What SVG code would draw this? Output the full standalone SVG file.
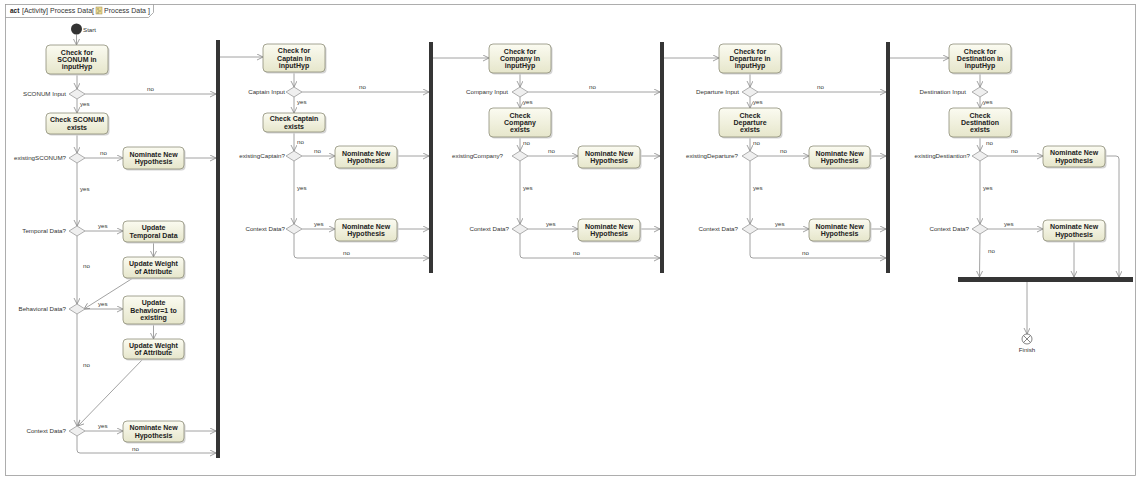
<svg xmlns="http://www.w3.org/2000/svg" width="1138" height="482" viewBox="0 0 1138 482">
<defs>
<linearGradient id="g" x1="0" y1="0" x2="0" y2="1"><stop offset="0" stop-color="#fbfbf1"/><stop offset="1" stop-color="#e6e6cb"/></linearGradient>
<marker id="a" markerUnits="userSpaceOnUse" markerWidth="8" markerHeight="8" refX="6" refY="3" orient="auto"><path d="M0,0 L6,3 L0,6" fill="none" stroke="#8a8a8a" stroke-width="0.8"/></marker>
</defs>
<style>
.n rect.b{fill:url(#g);stroke:#8e8e78;stroke-width:0.8}
.n rect.s{fill:#d4d4d4}
.t{font-family:"Liberation Sans",Arial,sans-serif;font-size:7px;font-weight:bold;fill:#222;text-anchor:middle}
.l{font-family:"Liberation Sans",Arial,sans-serif;font-size:6.2px;fill:#333}
.le{text-anchor:end}
.d{fill:#efefef;stroke:#9a9a9a;stroke-width:0.8}
.bar{fill:#353535}
#c path{fill:none;stroke:#8a8a8a;stroke-width:0.8;marker-end:url(#a)}
#c path.nm{marker-end:none}
</style>
<rect x="0" y="0" width="1138" height="482" fill="#fff"/>
<g id="frame">
<rect x="5.5" y="4.5" width="1130" height="471" fill="none" stroke="#9a9a9a" stroke-width="0.8"/>
<path d="M5.5,17.5 H148.5 L153.5,12.5 V4.5" fill="none" stroke="#9a9a9a" stroke-width="0.8"/>
<text x="10" y="12.8" font-family="Liberation Sans,Arial,sans-serif" font-size="6.5" font-weight="bold" fill="#222">act</text>
<text x="22" y="12.8" font-family="Liberation Sans,Arial,sans-serif" font-size="7" fill="#333">[Activity] Process Data[</text>
<rect x="96" y="7" width="6" height="7" fill="#e9d98a" stroke="#a08850" stroke-width="0.5"/>
<path d="M97,9 h2 M98,11 h3 M97,13 h2" stroke="#6a6a6a" stroke-width="0.6"/>
<text x="104" y="12.8" font-family="Liberation Sans,Arial,sans-serif" font-size="7" fill="#333">Process Data ]</text>
</g>

<g id="c">
<path d="M76.5,34.5 V45"/>
<path d="M77,74 V89"/>
<path d="M85,94 H216"/>
<path d="M77,99 V113"/>
<path d="M77,134 V153"/>
<path d="M85,158 H123"/>
<path d="M184,158 H216"/>
<path d="M77,163 V226"/>
<path d="M85,231 H123"/>
<path d="M153.5,242 V257"/>
<path d="M133,278 L84,309"/>
<path d="M77,236 V304"/>
<path d="M85,309 H123"/>
<path d="M153.5,324 V339"/>
<path d="M143,359 L78,426"/>
<path d="M77,314 V426"/>
<path d="M85,431 H123"/>
<path d="M184,431 H216"/>
<path d="M77,436 V450 Q77,453 80,453 H216"/>

<path d="M220,57 H263"/>
<path d="M294,72 V87"/>
<path d="M302,92 H429"/>
<path d="M294,97 V113"/>
<path d="M294,132 V151"/>
<path d="M302,156 H335"/>
<path d="M397,156 H429"/>
<path d="M294,161 V224"/>
<path d="M302,229 H335"/>
<path d="M397,229 H429"/>
<path d="M294,234 V255 Q294,258 297,258 H429"/>

<path d="M433,58 H489"/>
<path d="M520,73 V87"/>
<path d="M528,92 H660"/>
<path d="M520,97 V108"/>
<path d="M520,137 V151"/>
<path d="M528,156 H578"/>
<path d="M640,156 H660"/>
<path d="M520,161 V224"/>
<path d="M528,229 H578"/>
<path d="M640,229 H660"/>
<path d="M520,234 V255 Q520,258 523,258 H660"/>

<path d="M664,58 H719"/>
<path d="M750,73 V87"/>
<path d="M758,92 H886"/>
<path d="M750,97 V108"/>
<path d="M750,137 V151"/>
<path d="M758,156 H809"/>
<path d="M870,156 H886"/>
<path d="M750,161 V224"/>
<path d="M758,229 H809"/>
<path d="M870,229 H886"/>
<path d="M750,234 V255 Q750,258 753,258 H886"/>

<path d="M890,58 H949"/>
<path d="M980,73 V87"/>
<path d="M980,97 V108"/>
<path d="M980,137 V151"/>
<path d="M988,156 H1043"/>
<path d="M980,161 V224"/>
<path d="M988,229 H1043"/>
<path d="M1105,156 H1116 Q1119,156 1119,159 V277"/>
<path d="M1074,241 V277"/>
<path d="M980,234 L979.5,277"/>
<path d="M1027,282 V334"/>
</g>

<g id="clabels">
<text class="l" x="147" y="91">no</text>
<text class="l" x="80" y="106">yes</text>
<text class="l" x="100" y="155">no</text>
<text class="l" x="80" y="191">yes</text>
<text class="l" x="98" y="228">yes</text>
<text class="l" x="83" y="268">no</text>
<text class="l" x="98" y="306">yes</text>
<text class="l" x="83" y="367">no</text>
<text class="l" x="98" y="428">yes</text>
<text class="l" x="132" y="451">no</text>

<text class="l" x="359" y="89">no</text>
<text class="l" x="297" y="104">yes</text>
<text class="l" x="297" y="144">no</text>
<text class="l" x="314" y="153">no</text>
<text class="l" x="297" y="190">yes</text>
<text class="l" x="314" y="226">yes</text>
<text class="l" x="343" y="255">no</text>

<text class="l" x="589" y="89">no</text>
<text class="l" x="523" y="104">yes</text>
<text class="l" x="523" y="145">no</text>
<text class="l" x="548" y="153">no</text>
<text class="l" x="523" y="190">yes</text>
<text class="l" x="546" y="226">yes</text>
<text class="l" x="573" y="255">no</text>

<text class="l" x="817" y="89">no</text>
<text class="l" x="753" y="104">yes</text>
<text class="l" x="753" y="145">no</text>
<text class="l" x="780" y="153">no</text>
<text class="l" x="753" y="190">yes</text>
<text class="l" x="775" y="226">yes</text>
<text class="l" x="802" y="255">no</text>

<text class="l" x="983" y="104">yes</text>
<text class="l" x="986" y="145">no</text>
<text class="l" x="1011" y="153">no</text>
<text class="l" x="983" y="190">yes</text>
<text class="l" x="1004" y="226">yes</text>
<text class="l" x="988" y="253">no</text>
</g>

<g id="start"><circle cx="76.5" cy="29" r="5.5" fill="#333"/><text class="l" x="83" y="31.5">Start</text></g>

<g id="A1" class="n"><rect class="s" x="47.5" y="46.5" width="62" height="29" rx="4"/><rect class="b" x="46" y="45" width="62" height="29" rx="4"/><text class="t" x="77" y="54.6">Check for</text><text class="t" x="77" y="62">SCONUM in</text><text class="t" x="77" y="69.4">inputHyp</text></g>
<g id="D1"><polygon class="d" points="69,94 77,89 85,94 77,99"/><text class="l le" x="66" y="96">SCONUM Input</text></g>
<g id="A2" class="n"><rect class="s" x="47.5" y="114.5" width="62" height="21" rx="4"/><rect class="b" x="46" y="113" width="62" height="21" rx="4"/><text class="t" x="77" y="122.3">Check SCONUM</text><text class="t" x="77" y="129.7">exists</text></g>
<g id="D2"><polygon class="d" points="69,158 77,153 85,158 77,163"/><text class="l le" x="66" y="160">existingSCONUM?</text></g>
<g id="A3" class="n"><rect class="s" x="124.5" y="148.5" width="61" height="22" rx="4"/><rect class="b" x="123" y="147" width="61" height="22" rx="4"/><text class="t" x="153.5" y="156.8">Nominate New</text><text class="t" x="153.5" y="164.2">Hypothesis</text></g>
<g id="D3"><polygon class="d" points="69,231 77,226 85,231 77,236"/><text class="l le" x="66" y="233">Temporal Data?</text></g>
<g id="A4" class="n"><rect class="s" x="124.5" y="222.5" width="61" height="21" rx="4"/><rect class="b" x="123" y="221" width="61" height="21" rx="4"/><text class="t" x="153.5" y="230.3">Update</text><text class="t" x="153.5" y="237.7">Temporal Data</text></g>
<g id="A5" class="n"><rect class="s" x="124.5" y="258.5" width="61" height="21" rx="4"/><rect class="b" x="123" y="257" width="61" height="21" rx="4"/><text class="t" x="153.5" y="266.3">Update Weight</text><text class="t" x="153.5" y="273.7">of Attribute</text></g>
<g id="D4"><polygon class="d" points="69,309 77,304 85,309 77,314"/><text class="l le" x="66" y="311">Behavioral Data?</text></g>
<g id="A6" class="n"><rect class="s" x="124.5" y="297.5" width="61" height="28" rx="4"/><rect class="b" x="123" y="296" width="61" height="28" rx="4"/><text class="t" x="153.5" y="305.1">Update</text><text class="t" x="153.5" y="312.5">Behavior=1 to</text><text class="t" x="153.5" y="319.9">existing</text></g>
<g id="A7" class="n"><rect class="s" x="124.5" y="340.5" width="61" height="20" rx="4"/><rect class="b" x="123" y="339" width="61" height="20" rx="4"/><text class="t" x="153.5" y="347.8">Update Weight</text><text class="t" x="153.5" y="355.2">of Attribute</text></g>
<g id="D5"><polygon class="d" points="69,431 77,426 85,431 77,436"/><text class="l le" x="66" y="433">Context Data?</text></g>
<g id="A8" class="n"><rect class="s" x="124.5" y="422.5" width="61" height="21" rx="4"/><rect class="b" x="123" y="421" width="61" height="21" rx="4"/><text class="t" x="153.5" y="430.3">Nominate New</text><text class="t" x="153.5" y="437.7">Hypothesis</text></g>
<g id="bar1"><rect class="bar" x="216" y="40" width="4" height="418"/></g>

<g id="B1" class="n"><rect class="s" x="264.5" y="45.5" width="62" height="28" rx="4"/><rect class="b" x="263" y="44" width="62" height="28" rx="4"/><text class="t" x="294" y="53.1">Check for</text><text class="t" x="294" y="60.5">Captain in</text><text class="t" x="294" y="67.9">inputHyp</text></g>
<g id="E1"><polygon class="d" points="286,92 294,87 302,92 294,97"/><text class="l le" x="285" y="94">Captain Input</text></g>
<g id="B2" class="n"><rect class="s" x="264.5" y="114.5" width="62" height="19" rx="4"/><rect class="b" x="263" y="113" width="62" height="19" rx="4"/><text class="t" x="294" y="121.3">Check Captain</text><text class="t" x="294" y="128.7">exists</text></g>
<g id="E2"><polygon class="d" points="286,156 294,151 302,156 294,161"/><text class="l le" x="285" y="158">existingCaptain?</text></g>
<g id="B3" class="n"><rect class="s" x="336.5" y="147.5" width="62" height="22" rx="4"/><rect class="b" x="335" y="146" width="62" height="22" rx="4"/><text class="t" x="366" y="155.8">Nominate New</text><text class="t" x="366" y="163.2">Hypothesis</text></g>
<g id="E3"><polygon class="d" points="286,229 294,224 302,229 294,234"/><text class="l le" x="285" y="231">Context Data?</text></g>
<g id="B4" class="n"><rect class="s" x="336.5" y="220.5" width="62" height="22" rx="4"/><rect class="b" x="335" y="219" width="62" height="22" rx="4"/><text class="t" x="366" y="228.8">Nominate New</text><text class="t" x="366" y="236.2">Hypothesis</text></g>
<g id="bar2"><rect class="bar" x="429" y="42" width="4" height="231"/></g>

<g id="C1" class="n"><rect class="s" x="490.5" y="45.5" width="62" height="29" rx="4"/><rect class="b" x="489" y="44" width="62" height="29" rx="4"/><text class="t" x="520" y="53.6">Check for</text><text class="t" x="520" y="61">Company in</text><text class="t" x="520" y="68.4">inputHyp</text></g>
<g id="F1"><polygon class="d" points="512,92 520,87 528,92 520,97"/><text class="l le" x="508" y="94">Company Input</text></g>
<g id="C2" class="n"><rect class="s" x="490.5" y="109.5" width="62" height="29" rx="4"/><rect class="b" x="489" y="108" width="62" height="29" rx="4"/><text class="t" x="520" y="117.6">Check</text><text class="t" x="520" y="125">Company</text><text class="t" x="520" y="132.4">exists</text></g>
<g id="F2"><polygon class="d" points="512,156 520,151 528,156 520,161"/><text class="l le" x="503" y="158">existingCompany?</text></g>
<g id="C3" class="n"><rect class="s" x="579.5" y="147.5" width="62" height="22" rx="4"/><rect class="b" x="578" y="146" width="62" height="22" rx="4"/><text class="t" x="609" y="155.8">Nominate New</text><text class="t" x="609" y="163.2">Hypothesis</text></g>
<g id="F3"><polygon class="d" points="512,229 520,224 528,229 520,234"/><text class="l le" x="509" y="231">Context Data?</text></g>
<g id="C4" class="n"><rect class="s" x="579.5" y="220.5" width="62" height="22" rx="4"/><rect class="b" x="578" y="219" width="62" height="22" rx="4"/><text class="t" x="609" y="228.8">Nominate New</text><text class="t" x="609" y="236.2">Hypothesis</text></g>
<g id="bar3"><rect class="bar" x="660" y="42" width="4" height="231"/></g>

<g id="G1n" class="n"><rect class="s" x="720.5" y="45.5" width="62" height="29" rx="4"/><rect class="b" x="719" y="44" width="62" height="29" rx="4"/><text class="t" x="750" y="53.6">Check for</text><text class="t" x="750" y="61">Departure in</text><text class="t" x="750" y="68.4">inputHyp</text></g>
<g id="G1"><polygon class="d" points="742,92 750,87 758,92 750,97"/><text class="l le" x="739" y="94">Departure Input</text></g>
<g id="G2n" class="n"><rect class="s" x="720.5" y="109.5" width="62" height="29" rx="4"/><rect class="b" x="719" y="108" width="62" height="29" rx="4"/><text class="t" x="750" y="117.6">Check</text><text class="t" x="750" y="125">Departure</text><text class="t" x="750" y="132.4">exists</text></g>
<g id="G2"><polygon class="d" points="742,156 750,151 758,156 750,161"/><text class="l le" x="738" y="158">existingDeparture?</text></g>
<g id="G3n" class="n"><rect class="s" x="810.5" y="147.5" width="61" height="22" rx="4"/><rect class="b" x="809" y="146" width="61" height="22" rx="4"/><text class="t" x="839.5" y="155.8">Nominate New</text><text class="t" x="839.5" y="163.2">Hypothesis</text></g>
<g id="G3"><polygon class="d" points="742,229 750,224 758,229 750,234"/><text class="l le" x="738" y="231">Context Data?</text></g>
<g id="G4n" class="n"><rect class="s" x="810.5" y="220.5" width="61" height="22" rx="4"/><rect class="b" x="809" y="219" width="61" height="22" rx="4"/><text class="t" x="839.5" y="228.8">Nominate New</text><text class="t" x="839.5" y="236.2">Hypothesis</text></g>
<g id="bar4"><rect class="bar" x="886" y="42" width="4" height="231"/></g>

<g id="H1n" class="n"><rect class="s" x="950.5" y="45.5" width="62" height="29" rx="4"/><rect class="b" x="949" y="44" width="62" height="29" rx="4"/><text class="t" x="980" y="53.6">Check for</text><text class="t" x="980" y="61">Destination in</text><text class="t" x="980" y="68.4">inputHyp</text></g>
<g id="H1"><polygon class="d" points="972,92 980,87 988,92 980,97"/><text class="l le" x="966" y="94">Destination Input</text></g>
<g id="H2n" class="n"><rect class="s" x="950.5" y="109.5" width="62" height="29" rx="4"/><rect class="b" x="949" y="108" width="62" height="29" rx="4"/><text class="t" x="980" y="117.6">Check</text><text class="t" x="980" y="125">Destination</text><text class="t" x="980" y="132.4">exists</text></g>
<g id="H2"><polygon class="d" points="972,156 980,151 988,156 980,161"/><text class="l le" x="970" y="158">existingDestiantion?</text></g>
<g id="H3n" class="n"><rect class="s" x="1044.5" y="147.5" width="62" height="21" rx="4"/><rect class="b" x="1043" y="146" width="62" height="21" rx="4"/><text class="t" x="1074" y="155.3">Nominate New</text><text class="t" x="1074" y="162.7">Hypothesis</text></g>
<g id="H3"><polygon class="d" points="972,229 980,224 988,229 980,234"/><text class="l le" x="969" y="231">Context Data?</text></g>
<g id="H4n" class="n"><rect class="s" x="1044.5" y="221.5" width="62" height="21" rx="4"/><rect class="b" x="1043" y="220" width="62" height="21" rx="4"/><text class="t" x="1074" y="229.3">Nominate New</text><text class="t" x="1074" y="236.7">Hypothesis</text></g>
<g id="bar5"><rect class="bar" x="958" y="277" width="175" height="5"/></g>
<g id="finish"><circle cx="1027" cy="339" r="5" fill="#fff" stroke="#666" stroke-width="0.8"/><path d="M1023.5,335.5 L1030.5,342.5 M1030.5,335.5 L1023.5,342.5" stroke="#666" stroke-width="0.8"/><text class="l" x="1027" y="352" text-anchor="middle">Finish</text></g>
</svg>
